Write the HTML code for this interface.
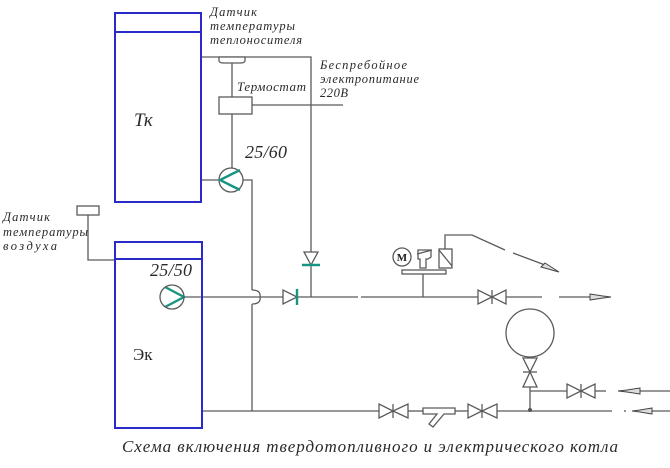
<!DOCTYPE html>
<html><head><meta charset="utf-8"><style>
html,body{margin:0;padding:0;background:#fff;width:670px;height:468px;overflow:hidden}
svg{display:block}
text{font-family:"Liberation Serif","DejaVu Serif",serif;fill:#2a2a2a}
.it{font-style:italic}
</style></head><body>
<svg width="670" height="468" viewBox="0 0 670 468" xmlns="http://www.w3.org/2000/svg">
<g fill="none" stroke="#5a5a5a" stroke-width="1.3">
<!-- Tk connections -->
<polyline points="201,57 311,57 311,297"/>
<path d="M219,57 H245 V61 Q244,63 241,63 H223 Q220,63 219,61 Z" fill="#fff"/>
<line x1="232" y1="63" x2="232" y2="97"/>
<rect x="219" y="97" width="33" height="17" fill="#fff"/>
<line x1="252" y1="105" x2="343" y2="105"/>
<line x1="232" y1="114" x2="232" y2="168"/>
<line x1="201" y1="180" x2="219" y2="180"/>
<circle cx="231" cy="180" r="12" fill="#fff"/>
<polyline points="243,180 252,180 252,290"/>
<path d="M252,290 Q261,290 260,297 Q261,304 252,304"/>
<line x1="252" y1="304" x2="252" y2="411"/>
<!-- supply line -->
<line x1="184" y1="297" x2="283" y2="297"/>
<polygon points="283,290 283,304 297,297" fill="#fff"/>
<line x1="297" y1="297" x2="358" y2="297"/>
<line x1="361" y1="297" x2="478" y2="297"/>
<polygon points="478,290 478,304 492,297" fill="#fff"/>
<polygon points="506,290 506,304 492,297" fill="#fff"/>
<line x1="492" y1="290" x2="492" y2="304"/>
<line x1="506" y1="297" x2="542" y2="297"/>
<line x1="559" y1="297" x2="592" y2="297"/>
<!-- vertical diode -->
<polygon points="304,252 318,252 311,265" fill="#fff"/>
<!-- motor valve assembly -->
<line x1="423" y1="274" x2="423" y2="297"/>
<rect x="402" y="270" width="44" height="4" fill="#fff"/>
<circle cx="402" cy="257" r="9" fill="#fff"/>
<path d="M418,250 H431 V257 L428,259 H426 V268 H420 V259 H418 Z" fill="#fff"/>
<line x1="417" y1="254" x2="432" y2="250"/>
<rect x="439" y="249" width="13" height="19" fill="#fff"/>
<line x1="439" y1="250" x2="452" y2="266"/>
<polyline points="445,249 445,235 472,235 505,250"/>
<line x1="513" y1="253" x2="545" y2="265"/>
<!-- air sensor -->
<rect x="77" y="206" width="22" height="9" fill="#fff"/>
<polyline points="88,215 88,260 115,260"/>
<!-- return line -->
<line x1="202" y1="411" x2="379" y2="411"/>
<polygon points="379,404 379,418 393,411" fill="#fff"/>
<polygon points="408,404 408,418 393,411" fill="#fff"/>
<line x1="393" y1="404" x2="393" y2="418"/>
<line x1="408" y1="411" x2="423" y2="411"/>
<path d="M423,408 H455 V414 H444 L433,427 L429,424 L437,414 H423 Z" fill="#fff"/>
<line x1="455" y1="411" x2="468" y2="411"/>
<polygon points="468,404 468,418 482,411" fill="#fff"/>
<polygon points="497,404 497,418 482,411" fill="#fff"/>
<line x1="482" y1="404" x2="482" y2="418"/>
<line x1="497" y1="411" x2="612" y2="411"/>
<line x1="624" y1="411" x2="626" y2="411"/>
<line x1="650" y1="411" x2="670" y2="411"/>
<!-- expansion tank -->
<circle cx="530" cy="333" r="24" fill="#fff"/>
<polygon points="523,358 537,358 530,372" fill="#fff"/>
<polygon points="523,387 537,387 530,372" fill="#fff"/>
<line x1="523" y1="372" x2="537" y2="372"/>
<line x1="530" y1="387" x2="530" y2="411"/>
<line x1="530" y1="391" x2="567" y2="391"/>
<polygon points="567,384 567,398 581,391" fill="#fff"/>
<polygon points="595,384 595,398 581,391" fill="#fff"/>
<line x1="581" y1="384" x2="581" y2="398"/>
<line x1="595" y1="391" x2="606" y2="391"/>
<line x1="638" y1="391" x2="670" y2="391"/>
</g>
<!-- arrowheads -->
<g fill="#ddd" stroke="#444" stroke-width="1">
<polygon points="545,263 559,272 541,267"/>
<polygon points="590,294 603,296 611,297 603,298 590,300"/>
<polygon points="640,388 627,390 618,391 627,392 640,394"/>
<polygon points="652,408 640,410 632,411 640,412 652,414"/>
</g>
<circle cx="530" cy="410" r="2" fill="#555"/>
<!-- boilers -->
<g fill="none" stroke="#2a2ac8" stroke-width="2">
<rect x="115" y="13" width="86" height="189"/>
<line x1="115" y1="32" x2="201" y2="32"/>
<rect x="115" y="242" width="87" height="186"/>
<line x1="115" y1="259" x2="202" y2="259"/>
</g>
<!-- teal pump chevrons and diode bars -->
<g fill="none" stroke="#1a9482" stroke-width="2.4">
<polyline points="240,170 220,180 240,190"/>
<polyline points="165,287 184,297 165,307"/>
<line x1="297" y1="289" x2="297" y2="305"/>
<line x1="302" y1="265" x2="320" y2="265"/>
</g>
<circle cx="172" cy="297" r="12" fill="none" stroke="#5a5a5a" stroke-width="1.3"/>
<text x="402" y="261" font-size="11" font-weight="bold" text-anchor="middle" style="font-style:normal;fill:#222">M</text>
<!-- labels -->
<g class="it" font-size="12.5">
<text x="210" y="16" textLength="47">Датчик</text>
<text x="210" y="30" textLength="85">температуры</text>
<text x="210" y="44" textLength="92">теплоносителя</text>
<text x="237" y="91" font-size="13" textLength="69">Термостат</text>
<text x="320" y="69" textLength="87">Беспребойное</text>
<text x="320" y="83" textLength="99">электропитание</text>
<text x="320" y="97" textLength="28">220В</text>
<text x="3" y="221" textLength="47">Датчик</text>
<text x="3" y="236" textLength="85">температуры</text>
<text x="3" y="250" textLength="54">воздуха</text>
</g>
<text class="it" x="134" y="126" font-size="19">Тк</text>
<text x="133" y="360" font-size="17">Эк</text>
<text class="it" x="245" y="158" font-size="18" textLength="42">25/60</text>
<text class="it" x="150" y="276" font-size="18" textLength="42">25/50</text>
<text class="it" x="122" y="452" font-size="17" textLength="496">Схема включения твердотопливного и электрического котла</text>
</svg>
</body></html>
